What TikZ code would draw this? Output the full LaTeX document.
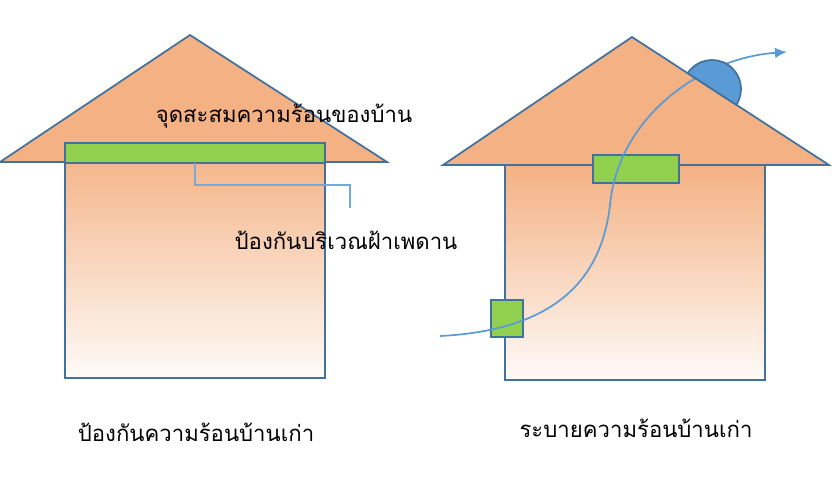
\documentclass[tikz,border=0pt]{standalone}
\usepackage{fontspec}
\newfontfamily\thaifont[Script=Thai]{Loma}
\usetikzlibrary{arrows.meta}

\definecolor{roofor}{HTML}{F4B183}
\definecolor{edgeblue}{HTML}{41719C}
\definecolor{leafgreen}{HTML}{92D050}
\definecolor{skyblue}{HTML}{5B9BD5}

\tikzset{
  roof/.style={fill=roofor,draw=edgeblue,line width=1.3pt,line join=miter},
  body/.style={top color=roofor,middle color=roofor!40,bottom color=roofor!6,draw=edgeblue,line width=1.3pt},
  pad/.style={fill=leafgreen,draw=edgeblue,line width=1.5pt},
  callout/.style={draw=skyblue!85,line width=1.3pt},
  flow/.style={draw=skyblue,line width=1.3pt,-{Latex[length=9pt,width=8pt]}},
  vent/.style={fill=skyblue,draw=edgeblue,line width=1.3pt},
  caption/.style={font=\thaifont\fontsize{16.6}{19}\selectfont,inner sep=0pt}
}

\begin{document}
\begin{tikzpicture}[x=0.75pt,y=-0.75pt]
\useasboundingbox (0,0) rectangle (832,476);

% house on the left
\draw[roof] (0,162) -- (190,35) -- (387,162) -- cycle;
\draw[body] (65,143) rectangle (325,378);
\draw[pad] (65,143) rectangle (325,163);
\node[caption] (store) at (284,116) {จุดสะสมความร้อนของบ้าน};
\coordinate (cstart) at (195,163);
\coordinate (cend) at (350,208);
\draw[callout] (cstart) -- (cstart |- 0,185) -| (cend);
\node[caption] (ceiling) at (346,240) {ป้องกันบริเวณฝ้าเพดาน};
\node[caption] (oldleft) at (196,432) {ป้องกันความร้อนบ้านเก่า};

% house on the right
\draw[roof] (443,165) -- (632,37) -- (829,165) -- cycle;
\draw[body] (505,165) rectangle (765,380);
\draw[pad] (593,155) rectangle (679,183);
\draw[pad] (491,300) rectangle (523,337);
\coordinate (flowstart) at (440,336);
\coordinate (flowmid) at (610,205);
\coordinate (flowend) at (787,52);
\draw[flow] (flowstart) .. controls (560,330) and (602,275) .. (flowmid)
  .. controls (618,118) and (700,58) .. (flowend);
\coordinate (vc) at (712,89);
\filldraw[vent] (vc) ++(213:29) arc[start angle=213,end angle=393,radius=29] -- cycle;
\node[caption] (oldright) at (636,428) {ระบายความร้อนบ้านเก่า};
\end{tikzpicture}
\end{document}
